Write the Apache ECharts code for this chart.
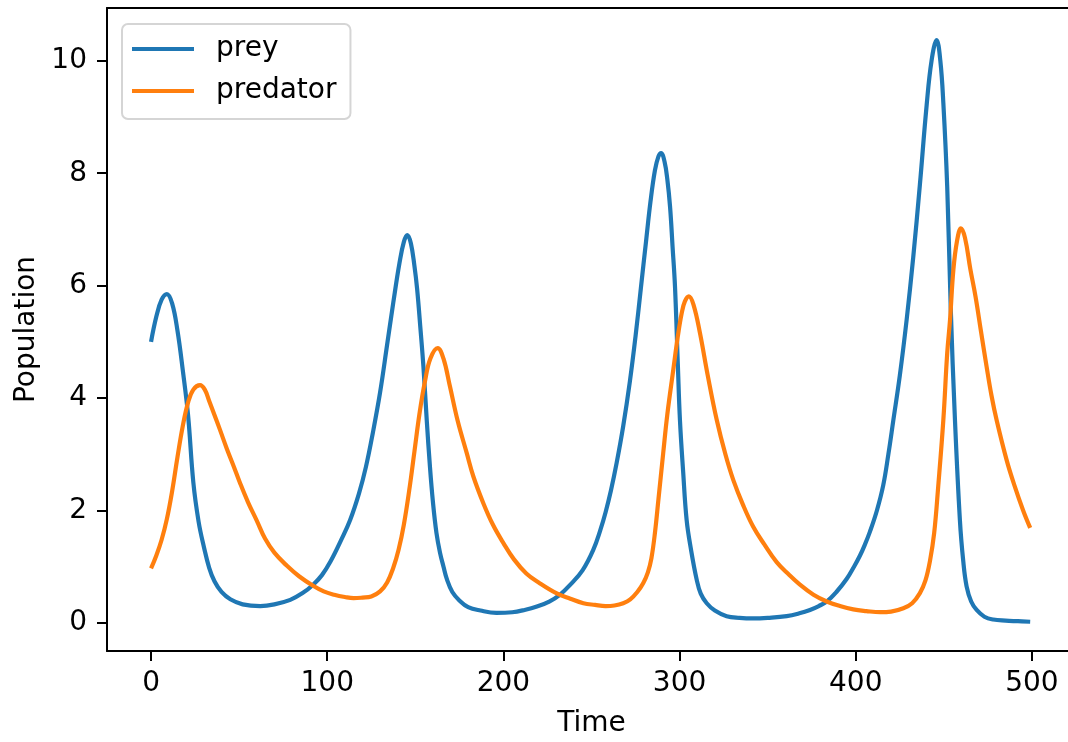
<!DOCTYPE html>
<html>
<head>
<meta charset="utf-8">
<script src="https://cdn.jsdelivr.net/npm/echarts@6/dist/echarts.min.js"></script>
<style>html,body{margin:0;padding:0;background:#fff;overflow:hidden;}#c{width:1068px;height:742px;}</style>
</head>
<body>
<div id="c"></div>
<script>
const seriesNames = ['prey', 'predator'];
const xTicks = [0, 100, 200, 300, 400, 500];
const yTicks = [0, 2, 4, 6, 8, 10];

const preyTime = [0,3,6,9,12,15,18,21,24,27,30,33,36,40,45,52,62,70,79,86,92,97,102,108,113,118,122,126,130,134,137.5,141,143.5,145.5,147.5,149.5,151,153,154.6,156.5,158.3,160,162,164,166,168,171,175,180,187,196,205,212,219,226,232,238,245,251,255,258,261,264.3,268,271.8,275,278,281,283.5,286,288,289.5,291.5,293,294.6,296,297.4,299,300.2,302,304,306.5,309.7,312,315.4,320,326.7,334,341.8,350,360.8,368,374,379,383.5,389,394.8,399,402.4,405,408,412,415.6,418.5,421.3,425,428.9,432.6,436.4,440.2,443,445.9,448,449.7,451.9,453.9,456.3,459.1,461,462.9,465.5,468.6,473,478,485,492,499];
const prey = [5.0,5.45,5.75,5.85,5.68,5.2,4.5,3.7,2.5,1.8,1.35,0.98,0.74,0.55,0.42,0.33,0.30,0.33,0.41,0.53,0.68,0.85,1.1,1.48,1.83,2.3,2.78,3.4,4.1,4.95,5.7,6.4,6.78,6.9,6.75,6.35,5.95,5.2,4.56,3.6,2.78,2.15,1.6,1.25,1.0,0.77,0.55,0.40,0.28,0.22,0.18,0.19,0.23,0.29,0.38,0.5,0.68,0.94,1.3,1.65,1.97,2.35,2.85,3.5,4.3,5.1,5.95,6.8,7.5,8.05,8.3,8.36,8.2,7.9,7.4,6.7,5.98,4.6,3.61,2.7,1.83,1.3,0.77,0.52,0.35,0.22,0.12,0.09,0.08,0.09,0.12,0.17,0.23,0.3,0.38,0.55,0.78,1.0,1.2,1.38,1.62,2.0,2.45,3.0,3.6,4.4,5.4,6.5,7.8,9.2,10.0,10.37,10.0,9.25,7.76,5.6,3.61,1.83,1.1,0.65,0.38,0.23,0.11,0.06,0.04,0.03,0.02];

const predatorTime = [0,3,6,9,12,15,18,21,24,27.8,30.5,33,36,39.2,43,47,50.5,55,60,64.7,70,77,84,92,98,104,110,115,120,125,130,134,137.5,140.5,143.5,146.5,149.5,152.5,155.5,158.5,162.7,166,169.7,174,179.2,183,188.6,194,200,206,213,220,230,238,245.4,252,258,263,268,272,276,279.4,282,284,286,288,290.7,293,296.4,299,301.2,303,305.3,308,311.6,316,321.1,326,330.5,336,341.8,348,355.1,362,368.3,376,383.5,391,398.6,406,413.9,420,427,432,436.4,439.5,442.1,444.5,446.8,449.7,451.9,453.5,455.4,457.5,459.7,462,465,468,471,474.3,477,480,485.6,490,495,499];
const predator = [0.97,1.2,1.48,1.85,2.35,2.95,3.5,3.92,4.15,4.23,4.15,3.95,3.7,3.43,3.1,2.78,2.49,2.15,1.82,1.5,1.25,1.02,0.83,0.66,0.56,0.5,0.46,0.44,0.45,0.47,0.56,0.72,0.98,1.3,1.75,2.35,3.05,3.75,4.3,4.7,4.89,4.7,4.2,3.6,3.02,2.6,2.13,1.75,1.42,1.13,0.88,0.72,0.53,0.43,0.35,0.32,0.30,0.31,0.35,0.42,0.55,0.71,0.9,1.15,1.6,2.2,3.02,3.7,4.5,5.1,5.51,5.72,5.81,5.65,5.15,4.4,3.61,3.0,2.54,2.1,1.71,1.4,1.08,0.86,0.68,0.5,0.38,0.3,0.24,0.21,0.19,0.2,0.26,0.35,0.53,0.75,1.1,1.6,2.43,3.61,4.8,5.39,6.28,6.8,7.02,6.85,6.3,5.8,5.2,4.55,4.05,3.6,2.9,2.45,2.0,1.69];

const zip = (a, b) => a.map((t, i) => [t, b[i]]);
const FONT = 'DejaVu Sans';
const X_MIN = -25, X_MAX = 525;

const chart = echarts.init(document.getElementById('c'), null, {renderer: 'canvas'});
chart.setOption({
  animation: false,
  backgroundColor: '#ffffff',
  grid: {
    left: 107, top: 8, width: 969, height: 643,
    outerBoundsMode: 'none', containLabel: false, show: false
  },
  graphic: [{
    type: 'rect', right: 0, top: 11, z: 100,
    shape: {width: 6, height: 638},
    style: {fill: '#ffffff'}, silent: true
  }],
  legend: {
    orient: 'vertical',
    left: 122, top: 24,
    data: seriesNames,
    icon: 'rect',
    itemWidth: 62, itemHeight: 4,
    itemGap: 14,
    padding: [11, 14, 14, 10],
    backgroundColor: '#ffffff',
    borderColor: '#d5d5d5', borderWidth: 2, borderRadius: 6,
    textStyle: {fontFamily: FONT, fontSize: 28, color: '#000', padding: [0, 0, 0, 17]}
  },
  xAxis: [{
    type: 'value', min: X_MIN, max: X_MAX, position: 'bottom',
    name: 'Time', nameLocation: 'middle', nameGap: 59,
    nameTextStyle: {fontFamily: FONT, fontSize: 28, color: '#000'},
    axisLine: {show: true, onZero: false, lineStyle: {color: '#000', width: 2}},
    splitLine: {show: false},
    axisTick: {show: true, length: 10, lineStyle: {color: '#000', width: 2}, customValues: xTicks},
    axisLabel: {fontFamily: FONT, fontSize: 28, color: '#000', margin: 19, customValues: xTicks}
  }, {
    type: 'value', min: X_MIN, max: X_MAX, position: 'top',
    axisLine: {show: true, onZero: false, lineStyle: {color: '#000', width: 2}},
    axisTick: {show: false}, axisLabel: {show: false}, splitLine: {show: false}
  }],
  yAxis: {
    type: 'value', min: -0.5, max: 10.94,
    name: 'Population', nameLocation: 'middle', nameGap: 65,
    nameTextStyle: {fontFamily: FONT, fontSize: 28, color: '#000'},
    axisLine: {show: true, onZero: false, lineStyle: {color: '#000', width: 2}},
    splitLine: {show: false},
    axisTick: {show: true, length: 10, lineStyle: {color: '#000', width: 2}, customValues: yTicks},
    axisLabel: {fontFamily: FONT, fontSize: 28, color: '#000', margin: 20, customValues: yTicks}
  },
  series: [
    {name: seriesNames[0], type: 'line', xAxisIndex: 0, data: zip(preyTime, prey), showSymbol: false, symbol: 'none',
     smooth: 0.4, lineStyle: {color: '#1f77b4', width: 4.2}, itemStyle: {color: '#1f77b4'}, z: 2},
    {name: seriesNames[1], type: 'line', xAxisIndex: 0, data: zip(predatorTime, predator), showSymbol: false, symbol: 'none',
     smooth: 0.4, lineStyle: {color: '#ff7f0e', width: 4.2}, itemStyle: {color: '#ff7f0e'}, z: 3}
  ]
});
</script>
</body>
</html>
